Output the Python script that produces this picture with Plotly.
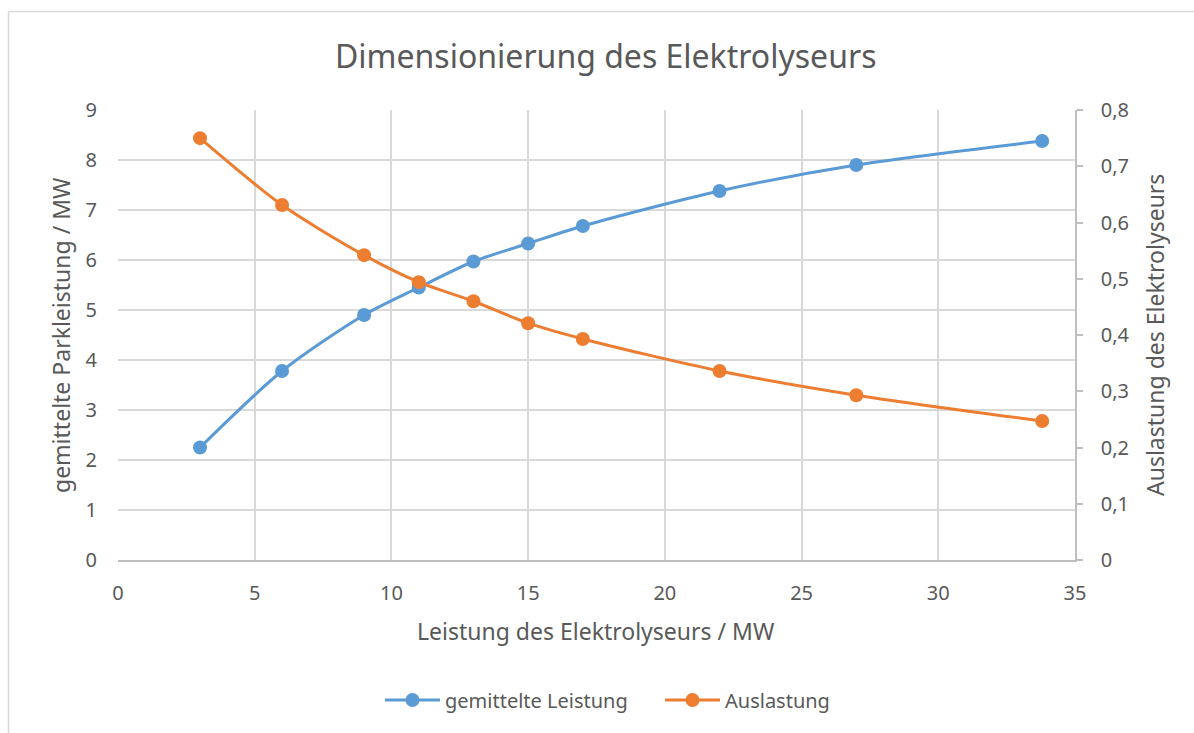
import plotly.graph_objects as go

# Elektrolyseur-Leistung in MW
leistung_mw = [3, 6, 9, 11, 13, 15, 17, 22, 27, 33.8]
# gemittelte Parkleistung in MW
gemittelte_leistung = [2.25, 3.78, 4.90, 5.45, 5.97, 6.33, 6.68, 7.38, 7.90, 8.38]
# Auslastung des Elektrolyseurs (Anteil)
auslastung = [0.750, 0.631, 0.542, 0.494, 0.460, 0.421, 0.393, 0.336, 0.293, 0.247]

BLUE = "#5B9BD5"
ORANGE = "#ED7D31"
TEXT = "#595959"
GRID = "#D9D9D9"
FONT = "Noto Sans"

fig = go.Figure()
fig.add_trace(go.Scatter(
    x=leistung_mw, y=gemittelte_leistung, name="gemittelte Leistung",
    mode="lines+markers", line=dict(color=BLUE, width=3, shape="spline", smoothing=0.8),
    marker=dict(color=BLUE, size=14), yaxis="y",
))
fig.add_trace(go.Scatter(
    x=leistung_mw, y=auslastung, name="Auslastung",
    mode="lines+markers", line=dict(color=ORANGE, width=3, shape="spline", smoothing=0.8),
    marker=dict(color=ORANGE, size=14), yaxis="y2",
))

fig.update_layout(
    width=1194, height=733,
    margin=dict(l=118, r=119, t=110, b=173),
    paper_bgcolor="white", plot_bgcolor="white",
    separators=",.",
    font=dict(family=FONT, color=TEXT, size=20),
    showlegend=True,
    legend=dict(orientation="h", x=(380 - 118) / 957, xanchor="left", y=-0.311, yanchor="middle",
                font=dict(size=20, color=TEXT), itemwidth=55, traceorder="normal",
                entrywidth=210, entrywidthmode="pixels"),
    xaxis=dict(range=[0, 35], dtick=5, tick0=0, showgrid=True, gridcolor=GRID, gridwidth=1.5,
               zeroline=False, showline=True, linecolor="#BFBFBF", linewidth=1.5,
               ticks="", ticklabelstandoff=14, tickfont=dict(size=20, color=TEXT)),
    yaxis=dict(range=[0, 9], dtick=1, tick0=0, showgrid=True, gridcolor=GRID, gridwidth=1.5,
               zeroline=False, showline=False, ticks="", ticklabelstandoff=20,
               tickfont=dict(size=20, color=TEXT)),
    yaxis2=dict(range=[0, 0.8], dtick=0.1, tick0=0, overlaying="y", side="right",
                showgrid=False, zeroline=False, showline=True, linecolor="#BFBFBF", linewidth=1.5,
                ticks="outside", ticklen=6, tickcolor="#BFBFBF", tickwidth=1.5,
                ticklabelstandoff=14, tickfont=dict(size=20, color=TEXT)),
    annotations=[
        dict(text="Dimensionierung des Elektrolyseurs", xref="paper", yref="paper",
             x=(605 - 118) / 957, y=(560 - 56) / 450, xanchor="center", yanchor="middle",
             showarrow=False, font=dict(size=32, color=TEXT)),
        dict(text="Leistung des Elektrolyseurs / MW", xref="paper", yref="paper",
             x=(596 - 118) / 957, y=(560 - 631) / 450, xanchor="center", yanchor="middle",
             showarrow=False, font=dict(size=23, color=TEXT)),
        dict(text="gemittelte Parkleistung / MW", xref="paper", yref="paper",
             x=(61 - 118) / 957, y=0.5, xanchor="center", yanchor="middle", textangle=-90,
             showarrow=False, font=dict(size=23, color=TEXT)),
        dict(text="Auslastung des Elektrolyseurs", xref="paper", yref="paper",
             x=(1155 - 118) / 957, y=0.5, xanchor="center", yanchor="middle", textangle=-90,
             showarrow=False, font=dict(size=23, color=TEXT)),
    ],
    shapes=[
        dict(type="line", xref="paper", yref="paper", x0=(8.5 - 118) / 957, x1=(1194 - 118) / 957,
             y0=(560 - 11.5) / 450, y1=(560 - 11.5) / 450, line=dict(color=GRID, width=1.5)),
        dict(type="line", xref="paper", yref="paper", x0=(8.5 - 118) / 957, x1=(8.5 - 118) / 957,
             y0=(560 - 11.5) / 450, y1=(560 - 733) / 450, line=dict(color=GRID, width=1.5)),
    ],
)

fig.write_html("out.html")
